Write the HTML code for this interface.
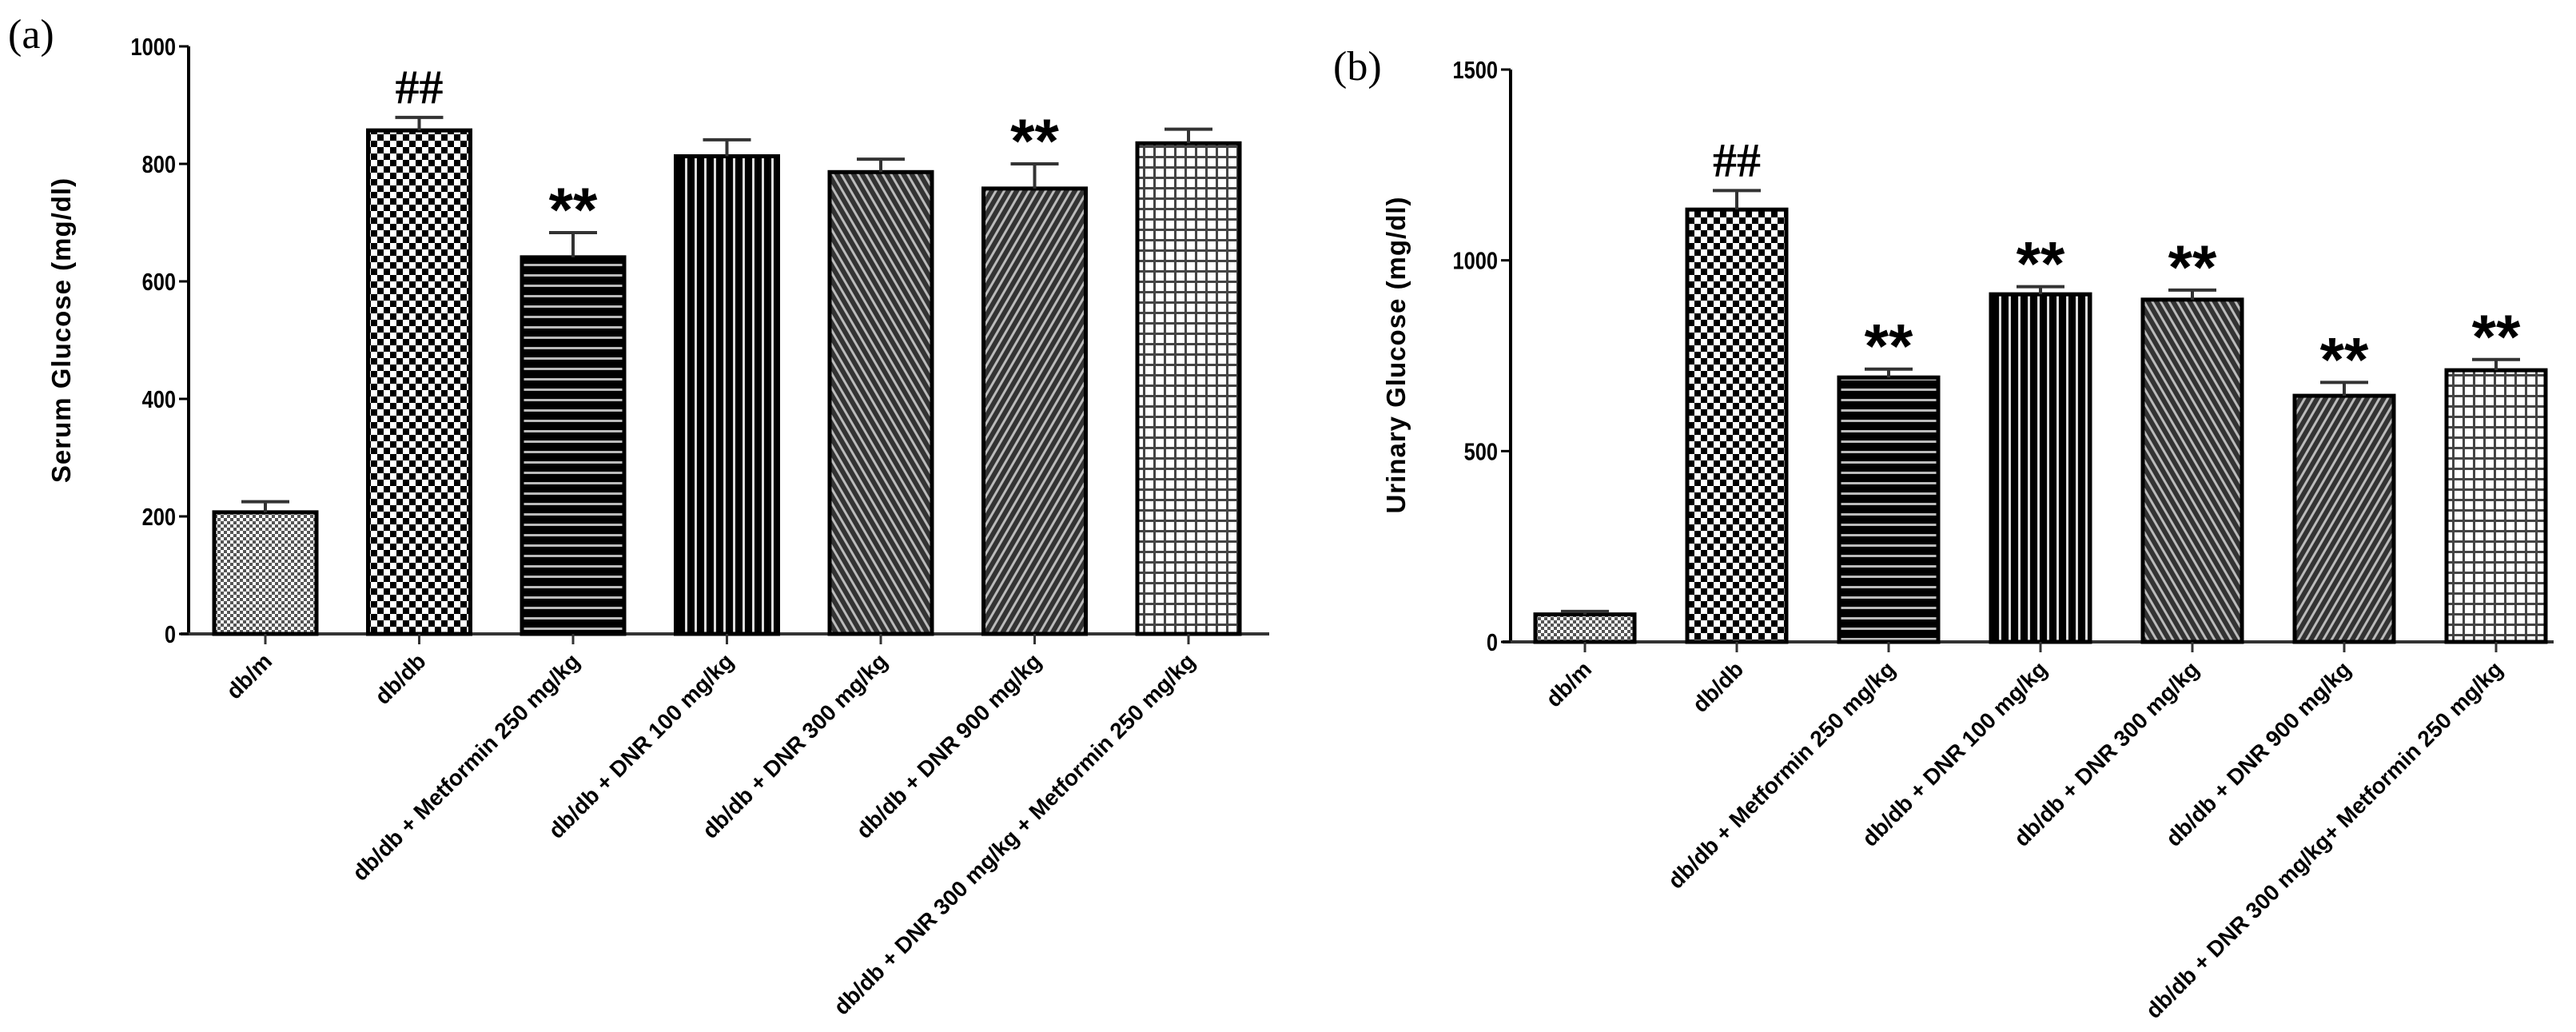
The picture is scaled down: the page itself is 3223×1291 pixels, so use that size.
<!DOCTYPE html>
<html><head><meta charset="utf-8"><style>
html,body{margin:0;padding:0;background:#fff;}
svg{display:block;}
text{font-family:"Liberation Sans",sans-serif;}
</style></head>
<body>
<svg id="chart" width="3223" height="1291" viewBox="0 0 3223 1291" xmlns="http://www.w3.org/2000/svg">
<defs>
  <pattern id="p0" width="8" height="8" patternUnits="userSpaceOnUse"><rect width="8" height="8" fill="#fff"/><rect width="4" height="4" fill="#555"/><rect x="4" y="4" width="4" height="4" fill="#555"/></pattern>
  <pattern id="p1" width="16" height="16" patternUnits="userSpaceOnUse"><rect width="16" height="16" fill="#fff"/><rect width="8" height="8" fill="#000"/><rect x="8" y="8" width="8" height="8" fill="#000"/></pattern>
  <pattern id="p2" width="10" height="13" patternUnits="userSpaceOnUse"><rect width="10" height="13" fill="#000"/><rect y="5" width="10" height="3" fill="#bbb"/></pattern>
  <pattern id="p3" width="12" height="10" patternUnits="userSpaceOnUse"><rect width="12" height="10" fill="#000"/><rect x="5" width="3" height="10" fill="#ddd"/></pattern>
  <pattern id="p4" width="9" height="9" patternUnits="userSpaceOnUse" patternTransform="rotate(-30)"><rect width="9" height="9" fill="#333"/><rect width="3" height="9" fill="#bbb"/></pattern>
  <pattern id="p5" width="9" height="9" patternUnits="userSpaceOnUse" patternTransform="rotate(30)"><rect width="9" height="9" fill="#333"/><rect width="3" height="9" fill="#bbb"/></pattern>
  <pattern id="p6" width="13" height="13" patternUnits="userSpaceOnUse"><rect width="13" height="13" fill="#fff"/><rect width="3" height="13" fill="#444"/><rect width="13" height="3" fill="#444"/></pattern>
</defs>
<text x="10" y="60" font-size="52" style="font-family:'Liberation Serif',serif">(a)</text>
<text x="1668" y="100" font-size="52" style="font-family:'Liberation Serif',serif">(b)</text>
<g id="ga"></g>
<g id="gb"></g>
</svg>
<script>
const categoriesA = ["db/m","db/db","db/db + Metformin 250 mg/kg","db/db + DNR 100 mg/kg","db/db + DNR 300 mg/kg","db/db + DNR 900 mg/kg","db/db + DNR 300 mg/kg + Metformin 250 mg/kg"];
const categoriesB = ["db/m","db/db","db/db + Metformin 250 mg/kg","db/db + DNR 100 mg/kg","db/db + DNR 300 mg/kg","db/db + DNR 900 mg/kg","db/db + DNR 300 mg/kg+ Metformin 250 mg/kg"];
const serumValues = [207, 857, 641, 813, 786, 758, 835];
const serumErrors = [18, 22, 42, 28, 22, 42, 24];
const serumMarks = ["", "##", "**", "", "", "**", ""];
const serumTicks = [0, 200, 400, 600, 800, 1000];
const urineValues = [72, 1133, 693, 911, 897, 645, 712];
const urineErrors = [8, 50, 22, 20, 25, 35, 28];
const urineMarks = ["", "##", "**", "**", "**", "**", "**"];
const urineTicks = [0, 500, 1000, 1500];

const NS = "http://www.w3.org/2000/svg";
function mk(parent, tag, attrs) {
  const e = document.createElementNS(NS, tag);
  for (const k in attrs) e.setAttribute(k, attrs[k]);
  parent.appendChild(e);
  return e;
}
function draw(g, cfg) {
  const y = v => cfg.y0 - (v - 0) / cfg.max * (cfg.y0 - cfg.yTop);
  const x = i => cfg.x0 + i * cfg.step;
  const ax = mk(g, "line", {x1: cfg.axX, y1: cfg.yTop, x2: cfg.axX, y2: cfg.y0, stroke: "#000", "stroke-width": 4});
  
  
  const xa = mk(g, "line", {x1: cfg.axX - 10, y1: cfg.y0, x2: cfg.axEnd, y2: cfg.y0, stroke: "#333", "stroke-width": 4});
  
  
  cfg.ticks.forEach(t => {
    const tl = mk(g, "line", {x1: cfg.axX - 12, y1: y(t), x2: cfg.axX, y2: y(t), stroke: "#000", "stroke-width": 3});
    
    
    const tx = mk(g, "text", {x: cfg.axX - 16, y: y(t) + 11, "text-anchor": "end", "font-size": 31, "font-weight": "bold", transform: `translate(${cfg.axX - 16} 0) scale(0.82 1) translate(${-(cfg.axX - 16)} 0)`});
    tx.textContent = t;
    
    
  });
  const tt = mk(g, "text", {x: 0, y: 0, "text-anchor": "middle", "font-size": 33, "font-weight": "bold", transform: `translate(${cfg.titleX} ${cfg.titleY}) rotate(-90)`, "letter-spacing": "1"});
  tt.textContent = cfg.title;
  
  
  cfg.values.forEach((v, i) => {
    const cx = x(i);
    const b = mk(g, "rect", {x: cx - cfg.bw / 2, y: y(v), width: cfg.bw, height: cfg.y0 - y(v), fill: `url(#p${i})`, stroke: "#000", "stroke-width": 5});
    
    
    const et = y(v + cfg.errors[i]);
    const el = mk(g, "path", {d: `M${cx} ${y(v)}V${et}M${cx - 30} ${et}H${cx + 30}`, stroke: "#333", "stroke-width": 4, fill: "none"});
    
    
    const tk = mk(g, "line", {x1: cx, y1: cfg.y0, x2: cx, y2: cfg.y0 + 13, stroke: "#333", "stroke-width": 3});
    
    
    const lb = mk(g, "text", {x: 0, y: 0, "text-anchor": "end", "font-size": 28, "font-weight": "bold", transform: `translate(${cx + 10} ${cfg.y0 + 36}) rotate(-45)`});
    lb.textContent = cfg.cats[i];
    
    
    if (cfg.marks[i]) {
      const isHash = cfg.marks[i] === "##";
      const m = mk(g, "text", {x: cx, y: et - (isHash ? 18 : 2), "text-anchor": "middle", "font-size": isHash ? 60 : 78, "font-weight": "bold", style: isHash ? "font-family:'Liberation Serif',serif" : ""});
      m.textContent = cfg.marks[i];
      
      
    }
  });
}
draw(document.getElementById("ga"), {values: serumValues, errors: serumErrors, marks: serumMarks, ticks: serumTicks, cats: categoriesA, max: 1000, y0: 793, yTop: 58, axX: 236, axEnd: 1588, x0: 332, step: 192.5, bw: 128, title: "Serum Glucose (mg/dl)", titleX: 88, titleY: 413});
draw(document.getElementById("gb"), {values: urineValues, errors: urineErrors, marks: urineMarks, ticks: urineTicks, cats: categoriesB, max: 1500, y0: 803, yTop: 87, axX: 1890, axEnd: 3195, x0: 1983, step: 190, bw: 124, title: "Urinary Glucose (mg/dl)", titleX: 1758, titleY: 444});
</script>
</body></html>
